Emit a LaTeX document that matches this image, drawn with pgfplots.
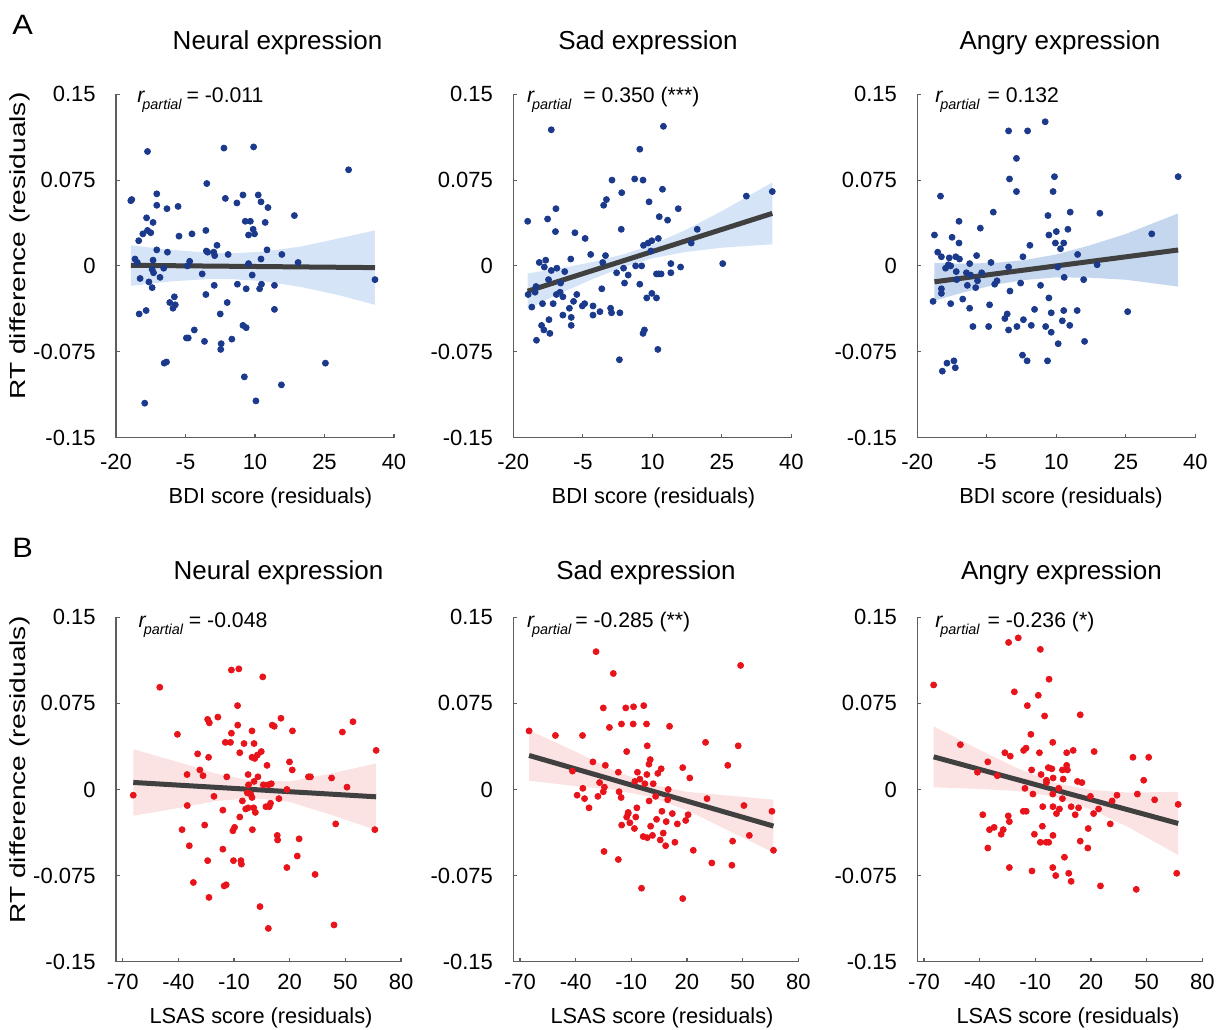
\documentclass[border=0pt]{standalone}
\usepackage{pgfplots}
\pgfplotsset{compat=1.18}
\usepackage{fontspec}
\setmainfont{Liberation Sans}
\definecolor{axgray}{HTML}{5E5E5E}
\definecolor{dotblue}{HTML}{1B3A8C}
\definecolor{dotred}{HTML}{E8141C}
\definecolor{bandA}{HTML}{D6E4F7}
\definecolor{bandA3}{HTML}{C4D7EE}
\definecolor{bandB}{HTML}{FBE3E3}
\definecolor{regline}{HTML}{404040}
\pgfplotsset{
 base/.style={scale only axis, axis x line*=bottom, axis y line*=left,
  ymin=-0.15, ymax=0.15, ytick={-0.15,-0.075,0,0.075,0.15},
  yticklabels={-0.15,-0.075,0,0.075,0.15},
  tick align=inside, major tick length=2pt,
  axis line style={-, draw=axgray, line width=0.55pt},
  every tick/.style={draw=axgray, line width=0.55pt},
  ticklabel style={font=\fontsize{11}{13}\selectfont, text=black},
  yticklabel style={anchor=east, inner sep=0pt, xshift=-10pt},
  clip=false},
 rowA/.style={base, width=139pt, height=171.6pt, xmin=-20, xmax=40,
  xtick={-20,-5,10,25,40}, xticklabels={-20,-5,10,25,40},
  xticklabel style={anchor=base, inner sep=0pt, yshift=-16pt}},
 rowB/.style={base, width=142.5pt, height=172.25pt, xmin=-73.6, xmax=80,
  xtick={-70,-40,-10,20,50,80}, xticklabels={-70,-40,-10,20,50,80},
  xticklabel style={anchor=base, inner sep=0pt, yshift=-14pt}},
 dotsA/.style={only marks, mark=*, mark size=1.5pt, color=dotblue},
 dotsB/.style={only marks, mark=*, mark size=1.5pt, color=dotred},
 fitline/.style={no marks, color=regline, line width=2.5pt},
}
\newcommand{\rp}[2]{{\fontsize{10.6}{12}\selectfont\itshape r}\kern-1pt\raisebox{-3.5pt}{\fontsize{7.2}{8}\selectfont\itshape partial}\hspace{#1}{\fontsize{10.6}{12}\selectfont = #2}}
\newcommand{\ttl}{\fontsize{13}{15}\selectfont}
\newcommand{\lbl}{\fontsize{10.9}{13}\selectfont}
\begin{document}
\begin{tikzpicture}
\useasboundingbox (0,0) rectangle (609.5pt,514.5pt);
% ---------------- A1
\begin{axis}[rowA, at={(58pt,295.75pt)}, anchor=south west]
\addplot[fill=bandA, draw=none] coordinates {(-16.8,0.018) (-8,0.014) (0,0.0115) (5,0.011) (12,0.0125) (20,0.017) (28,0.024) (35.9,0.031) (35.9,-0.034) (28,-0.0255) (20,-0.0185) (12,-0.0135) (5,-0.0115) (0,-0.0115) (-8,-0.0135) (-16.8,-0.0175)} -- cycle;
\addplot[dotsA] coordinates {(-16.8,0.057) (-16.6,0.058) (-13.2,0.100) (-11.2,0.063) (-11.2,0.053) (-9.0,0.050) (-6.6,0.052) (-13.4,0.042) (-12.0,0.038) (-13.2,0.031) (-12.5,0.029) (-14.2,0.028) (-15.1,0.022) (-6.4,0.026) (-3.6,0.028) (-0.4,0.072) (-0.6,0.031) (3.3,0.103) (3.6,0.059) (6.1,0.055) (7.4,0.062) (9.7,0.104) (10.7,0.062) (11.3,0.056) (12.8,0.051) (7.9,0.039) (9.0,0.039) (9.6,0.032) (9.9,0.028) (8.6,0.027) (12.2,0.038) (18.5,0.044) (30.2,0.084) (1.8,0.018) (-0.5,0.013) (-0.2,0.012) (1.1,0.012) (1.3,0.009) (4.2,0.010) (-11.2,0.014) (-8.9,0.012) (-15.9,0.006) (-15.4,0.003) (-12.0,0.005) (-12.2,-0.003) (-11.9,-0.006) (-9.7,-0.002) (-10.5,-0.010) (-14.8,-0.011) (-12.9,-0.014) (-12.2,-0.019) (-15.0,-0.042) (-13.5,-0.039) (-7.4,-0.027) (-8.4,-0.032) (-7.2,-0.034) (-7.7,-0.037) (-4.1,0.004) (-4.6,0.000) (-1.4,-0.007) (-0.6,-0.025) (1.2,-0.017) (4.0,-0.032) (2.5,-0.042) (6.2,-0.016) (8.1,-0.020) (8.6,0.002) (9.4,-0.008) (11.3,0.006) (12.6,0.014) (15.8,0.010) (19.3,0.003) (11.0,-0.020) (11.4,-0.016) (14.2,-0.017) (14.2,-0.038) (7.4,-0.052) (8.1,-0.054) (-4.8,-0.063) (-4.4,-0.063) (-3.1,-0.056) (-0.9,-0.066) (2.7,-0.068) (2.6,-0.073) (5.0,-0.064) (-9.6,-0.085) (-9.1,-0.084) (-13.8,-0.120) (7.7,-0.097) (10.2,-0.118) (15.7,-0.104) (25.2,-0.085) (35.9,-0.012)};
\addplot[fitline] coordinates {(-16.8,0.0005) (35.9,-0.0015)};
\end{axis}
% ---------------- A2
\begin{axis}[rowA, at={(256.65pt,295.75pt)}, anchor=south west]
\addplot[fill=bandA, draw=none] coordinates {(-16.9,-0.0066) (-10,-0.0022) (-3,0.0033) (4,0.0103) (10,0.0186) (17,0.0311) (25,0.0479) (35.9,0.0729) (35.9,0.0189) (25,0.0159) (17,0.0121) (10,0.0066) (4,-0.0007) (-3,-0.0117) (-10,-0.0242) (-16.9,-0.0376)} -- cycle;
\addplot[dotsA] coordinates {(-11.8,0.119) (12.4,0.122) (7.3,0.102) (1.3,0.075) (6.2,0.076) (8.0,0.075) (12.2,0.067) (3.4,0.064) (0.1,0.058) (-0.5,0.053) (9.3,0.056) (30.3,0.061) (35.9,0.065) (-10.8,0.050) (-12.6,0.041) (-16.9,0.039) (11.5,0.043) (13.3,0.040) (15.6,0.050) (-10.9,0.030) (-6.7,0.029) (-4.5,0.024) (3.3,0.032) (19.7,0.032) (11.3,0.024) (18.4,0.020) (9.9,0.022) (9.1,0.020) (8.1,0.018) (9.7,0.013) (-3.3,0.010) (-0.1,0.009) (-7.6,0.006) (-0.7,0.003) (-14.4,0.003) (-13.0,0.005) (-13.3,-0.001) (-11.8,-0.004) (-10.6,-0.002) (-8.9,-0.005) (-12.4,-0.012) (-9.8,-0.015) (-15.1,-0.018) (-15.3,-0.023) (-16.8,-0.025) (-10.7,-0.025) (-9.9,-0.023) (-9.3,-0.027) (-16.0,-0.036) (-13.7,-0.033) (-11.4,-0.033) (-6.3,-0.025) (-7.0,-0.031) (-7.9,-0.037) (-7.5,-0.045) (-7.5,-0.052) (-9.3,-0.043) (-12.3,-0.047) (-13.9,-0.052) (-13.4,-0.056) (-12.1,-0.059) (-15.0,-0.065) (-5.1,-0.035) (-4.6,-0.033) (-2.8,-0.035) (-2.8,-0.043) (-1.3,-0.040) (-0.9,-0.020) (1.0,-0.037) (1.2,-0.041) (3.0,-0.041) (2.3,-0.006) (3.8,-0.002) (4.0,-0.015) (4.8,-0.008) (6.4,0.000) (7.7,0.000) (7.3,-0.016) (8.8,-0.028) (9.9,-0.024) (10.9,-0.028) (10.9,-0.007) (11.4,-0.007) (11.9,-0.007) (14.0,0.002) (14.0,-0.006) (16.1,-0.001) (25.2,0.002) (8.3,-0.056) (8.0,-0.059) (11.2,-0.073) (2.9,-0.082)};
\addplot[fitline] coordinates {(-16.9,-0.0221) (35.9,0.0459)};
\end{axis}
% ---------------- A3
\begin{axis}[rowA, at={(458.65pt,295.75pt)}, anchor=south west]
\addplot[fill=bandA3, draw=none] coordinates {(-16.3,0.0026) (-10,0.0019) (-3,0.0027) (3,0.0050) (10,0.0100) (17,0.0177) (25,0.0279) (36.3,0.0459) (36.3,-0.0181) (25,-0.0121) (17,-0.0103) (10,-0.0100) (3,-0.0124) (-3,-0.0163) (-10,-0.0231) (-16.3,-0.0304)} -- cycle;
\addplot[dotsA] coordinates {(7.6,0.126) (-0.3,0.118) (3.8,0.118) (1.4,0.094) (-0.1,0.076) (9.6,0.078) (1.4,0.065) (9.3,0.065) (36.3,0.078) (-15.0,0.061) (-3.6,0.047) (8.2,0.044) (13.0,0.047) (19.4,0.046) (-11.0,0.039) (-6.4,0.033) (10.0,0.030) (8.4,0.027) (12.5,0.032) (-16.3,0.027) (-12.5,0.025) (-11.0,0.020) (9.8,0.020) (11.6,0.020) (4.3,0.018) (10.9,0.015) (14.6,0.010) (30.6,0.028) (-15.6,0.012) (-14.8,0.008) (-13.1,0.007) (-11.7,0.008) (-10.9,0.006) (-7.2,0.009) (2.8,0.008) (-4.1,0.003) (-8.7,0.002) (-13.9,-0.002) (-13.3,0.001) (-12.8,0.000) (-11.6,-0.005) (-0.3,-0.001) (10.3,-0.001) (18.8,0.001) (-9.4,-0.006) (-8.5,-0.008) (-6.1,-0.006) (-7.0,-0.013) (-7.4,-0.019) (-9.2,-0.017) (-11.5,-0.012) (-3.3,-0.016) (-2.8,-0.013) (2.3,-0.015) (0.0,-0.022) (6.6,-0.017) (11.7,-0.010) (15.9,-0.012) (-14.8,-0.020) (-14.8,-0.024) (-16.6,-0.031) (-12.8,-0.033) (-10.2,-0.029) (-8.7,-0.037) (-4.4,-0.034) (8.4,-0.028) (5.3,-0.038) (8.9,-0.041) (11.6,-0.039) (14.5,-0.039) (25.4,-0.040) (-0.6,-0.042) (-1.1,-0.046) (-8.0,-0.053) (-4.6,-0.053) (-0.3,-0.056) (1.5,-0.053) (2.9,-0.047) (4.6,-0.052) (7.7,-0.053) (8.9,-0.058) (11.3,-0.048) (12.9,-0.052) (10.4,-0.068) (16.1,-0.066) (2.7,-0.078) (3.7,-0.083) (8.1,-0.083) (-13.6,-0.085) (-12.1,-0.083) (-11.8,-0.089) (-14.6,-0.092)};
\addplot[fitline] coordinates {(-16.3,-0.0139) (36.3,0.0139)};
\end{axis}
% ---------------- B1
\begin{axis}[rowB, at={(58pt,33.65pt)}, anchor=south west]
\addplot[fill=bandB, draw=none] coordinates {(-64.3,0.0351) (-40,0.0238) (-20,0.0139) (0,0.0075) (20,0.0071) (40,0.0131) (66.6,0.0226) (66.6,-0.0354) (40,-0.0209) (20,-0.0109) (0,-0.0075) (-20,-0.0101) (-40,-0.0162) (-64.3,-0.0229)} -- cycle;
\addplot[dotsB] coordinates {(-64.3,-0.005) (-50.0,0.089) (-40.5,0.048) (-38.0,-0.035) (-34.1,-0.049) (-35.3,0.013) (-35.2,-0.014) (-31.9,-0.081) (-29.6,0.031) (-28.4,0.017) (-26.7,0.012) (-25.8,-0.031) (-24.2,0.061) (-23.3,0.058) (-23.7,0.028) (-24.2,-0.062) (-23.5,-0.094) (-20.8,-0.006) (-18.7,0.063) (-16.0,-0.018) (-16.0,-0.052) (-15.3,-0.084) (-14.2,-0.083) (-14.7,0.041) (-11.9,0.041) (-13.9,0.011) (-11.4,0.104) (-7.4,0.105) (-8.1,0.073) (-8.0,0.056) (-11.4,0.049) (-6.9,0.032) (-4.6,0.040) (-0.3,0.051) (0.8,0.040) (-0.3,0.028) (1.2,0.027) (2.6,0.030) (4.7,0.033) (5.5,0.098) (7.8,0.021) (-2.4,0.013) (2.9,0.011) (0.8,0.007) (-2.2,0.004) (-2.8,-0.003) (-1.0,-0.004) (-0.3,-0.007) (-5.5,-0.010) (-3.7,-0.017) (-2.4,-0.016) (0.6,-0.016) (1.5,-0.020) (-6.9,-0.024) (-9.7,-0.033) (-10.6,-0.036) (-0.1,-0.035) (5.8,0.004) (8.5,0.004) (10.1,0.005) (7.2,-0.015) (9.0,-0.015) (9.7,-0.012) (14.2,-0.008) (10.6,0.056) (11.7,0.055) (15.3,0.062) (19.9,0.024) (21.4,0.017) (21.5,0.051) (18.5,0.000) (13.3,-0.040) (13.5,-0.044) (25.1,-0.043) (24.1,-0.058) (18.5,-0.068) (-10.3,-0.062) (-6.3,-0.062) (-6.0,-0.065) (4.0,-0.102) (8.5,-0.121) (33.7,-0.074) (30.1,0.011) (31.2,0.011) (42.6,0.010) (44.8,-0.030) (43.9,-0.118) (48.4,0.050) (50.9,0.002) (54.1,0.059) (66.6,0.034) (65.9,-0.035)};
\addplot[fitline] coordinates {(-64.3,0.0061) (66.6,-0.0064)};
\end{axis}
% ---------------- B2
\begin{axis}[rowB, at={(256.65pt,33.65pt)}, anchor=south west]
\addplot[fill=bandB, draw=none] coordinates {(-65.1,0.0516) (-40,0.0329) (-20,0.0170) (0,0.0047) (20,-0.0021) (40,-0.0050) (66.6,-0.0089) (66.6,-0.0549) (40,-0.0340) (20,-0.0181) (0,-0.0063) (-20,0.0000) (-40,0.0029) (-65.1,0.0076)} -- cycle;
\addplot[dotsB] coordinates {(-65.1,0.051) (-50.9,0.047) (-36.3,0.047) (-41.7,0.016) (-39.2,-0.005) (-36.1,0.001) (-35.2,-0.008) (-32.8,-0.016) (-30.7,0.024) (-29.0,0.120) (-28.0,-0.006) (-27.1,0.006) (-25.1,-0.002) (-24.5,0.002) (-24.0,0.021) (-25.1,0.071) (-21.8,0.054) (-19.7,0.101) (-24.7,-0.054) (-17.0,0.015) (-16.6,-0.002) (-15.5,-0.007) (-17.0,-0.061) (-15.2,-0.031) (-15.3,0.057) (-13.0,0.071) (-8.8,0.072) (-12.5,0.033) (-12.5,-0.024) (-11.7,-0.021) (-11.7,-0.020) (-10.8,-0.029) (-9.0,0.057) (-8.3,-0.034) (-7.6,-0.024) (-7.0,-0.016) (-6.7,0.015) (-8.1,0.007) (-5.4,0.009) (-4.5,-0.086) (-3.3,0.073) (-1.8,0.057) (-2.7,0.005) (-3.6,-0.041) (-1.4,-0.042) (-1.6,0.013) (-1.4,0.038) (-0.5,0.022) (0.2,0.026) (-0.4,-0.010) (0.4,-0.032) (1.4,-0.040) (1.8,0.005) (3.1,-0.006) (3.6,-0.026) (4.3,0.014) (6.1,0.018) (5.6,-0.044) (7.2,-0.038) (6.5,-0.019) (8.5,-0.049) (8.8,-0.028) (9.6,-0.009) (9.9,0.000) (10.6,0.055) (12.1,-0.021) (13.5,-0.046) (14.8,-0.030) (17.7,0.019) (19.3,-0.027) (20.6,-0.022) (21.5,0.010) (17.7,-0.095) (23.4,-0.053) (30.0,0.041) (30.8,-0.008) (33.4,-0.064) (42.0,0.021) (44.6,-0.045) (44.2,-0.066) (47.6,0.038) (48.9,0.108) (50.7,-0.014) (53.6,-0.040) (65.8,-0.019) (66.6,-0.053)};
\addplot[fitline] coordinates {(-65.1,0.0296) (66.6,-0.0319)};
\end{axis}
% ---------------- B3
\begin{axis}[rowB, at={(458.65pt,33.65pt)}, anchor=south west]
\addplot[fill=bandB, draw=none] coordinates {(-64.8,0.0549) (-40,0.0345) (-20,0.0187) (0,0.0059) (20,-0.0004) (40,-0.0027) (67,-0.0021) (67,-0.0571) (40,-0.0327) (20,-0.0174) (0,-0.0061) (-20,-0.0013) (-40,0.0005) (-64.8,0.0019)} -- cycle;
\addplot[dotsB] coordinates {(-64.8,0.091) (-24.4,0.128) (-19.2,0.132) (-7.3,0.122) (-2.6,0.096) (-21.3,0.085) (-8.4,0.082) (-14.3,0.073) (-5.0,0.064) (14.2,0.065) (-12.4,0.048) (-50.4,0.039) (-0.6,0.041) (-26.4,0.032) (-23.5,0.029) (-16.3,0.034) (-15.0,0.036) (-7.8,0.032) (6.9,0.032) (10.4,0.034) (21.7,0.033) (-35.6,0.024) (-30.5,0.012) (-41.2,0.015) (-12.0,0.017) (-6.9,0.013) (-3.0,0.019) (-1.1,0.018) (-0.4,0.010) (-4.0,0.008) (-4.0,0.006) (4.6,0.017) (6.9,0.021) (7.3,0.017) (5.0,0.009) (12.7,0.007) (15.1,0.006) (42.6,0.028) (51.1,0.028) (48.4,0.008) (-15.6,0.001) (-11.3,-0.004) (-0.6,-0.004) (2.6,0.001) (4.6,-0.008) (-6.0,-0.015) (-0.5,-0.015) (3.0,-0.017) (1.4,-0.021) (9.3,-0.015) (11.5,-0.022) (13.3,-0.016) (19.7,-0.006) (21.4,-0.021) (24.1,-0.017) (31.4,-0.010) (34.0,-0.005) (45.0,-0.004) (54.3,-0.009) (67.0,-0.013) (30.4,-0.030) (18.5,-0.034) (-16.5,-0.019) (-14.9,-0.019) (-38.3,-0.022) (-24.6,-0.023) (-24.0,-0.028) (-34.7,-0.035) (-32.2,-0.033) (-28.4,-0.039) (-27.3,-0.035) (-6.2,-0.032) (-10.5,-0.039) (-7.3,-0.046) (-4.2,-0.046) (-2.8,-0.046) (-0.5,-0.040) (14.2,-0.045) (18.3,-0.051) (-35.6,-0.051) (5.7,-0.059) (-24.0,-0.068) (-11.8,-0.071) (-0.6,-0.068) (1.0,-0.075) (8.0,-0.073) (9.3,-0.080) (25.1,-0.084) (44.4,-0.087) (66.2,-0.073)};
\addplot[fitline] coordinates {(-64.8,0.0284) (67.0,-0.0296)};
\end{axis}
% ---------------- text
\node[anchor=base west, inner sep=0pt, font=\fontsize{14}{16}\selectfont] at (6pt,497pt) {\scalebox{1.1}[1]{A}};
\node[anchor=base west, inner sep=0pt, font=\fontsize{14}{16}\selectfont] at (6pt,235.85pt) {\scalebox{1.1}[1]{B}};
\node[anchor=base, inner sep=0pt, font=\ttl] at (138.75pt,489.5pt) {Neural expression};
\node[anchor=base, inner sep=0pt, font=\ttl] at (324pt,489.5pt) {Sad expression};
\node[anchor=base, inner sep=0pt, font=\ttl] at (530pt,489.5pt) {Angry expression};
\node[anchor=base, inner sep=0pt, font=\ttl] at (139.25pt,225pt) {Neural expression};
\node[anchor=base, inner sep=0pt, font=\ttl] at (323pt,225pt) {Sad expression};
\node[anchor=base, inner sep=0pt, font=\ttl] at (530.75pt,225pt) {Angry expression};
\node[anchor=base, inner sep=0pt, font=\lbl] at (135.25pt,262.5pt) {BDI score (residuals)};
\node[anchor=base, inner sep=0pt, font=\lbl] at (326.75pt,262.5pt) {BDI score (residuals)};
\node[anchor=base, inner sep=0pt, font=\lbl] at (530.5pt,262.5pt) {BDI score (residuals)};
\node[anchor=base, inner sep=0pt, font=\lbl] at (130.5pt,3pt) {LSAS score (residuals)};
\node[anchor=base, inner sep=0pt, font=\lbl] at (331pt,3pt) {LSAS score (residuals)};
\node[anchor=base, inner sep=0pt, font=\lbl] at (534pt,3pt) {LSAS score (residuals)};
\node[anchor=base, inner sep=0pt, rotate=90, font=\lbl] at (12.5pt,391.5pt) {\scalebox{1.29}[1]{RT difference (residuals)}};
\node[anchor=base, inner sep=0pt, rotate=90, font=\lbl] at (12.5pt,129.5pt) {\scalebox{1.29}[1]{RT difference (residuals)}};
\node[anchor=base west, inner sep=0pt] at (68.5pt,463pt) {\rp{2.5pt}{-0.011}};
\node[anchor=base west, inner sep=0pt] at (263.35pt,463pt) {\rp{6pt}{0.350 (***)}};
\node[anchor=base west, inner sep=0pt] at (467.5pt,463pt) {\rp{4pt}{0.132}};
\node[anchor=base west, inner sep=0pt] at (69.15pt,201pt) {\rp{3pt}{-0.048}};
\node[anchor=base west, inner sep=0pt] at (263.35pt,201pt) {\rp{2pt}{-0.285 (**)}};
\node[anchor=base west, inner sep=0pt] at (467.5pt,201pt) {\rp{4pt}{-0.236 (*)}};
\end{tikzpicture}
\end{document}
